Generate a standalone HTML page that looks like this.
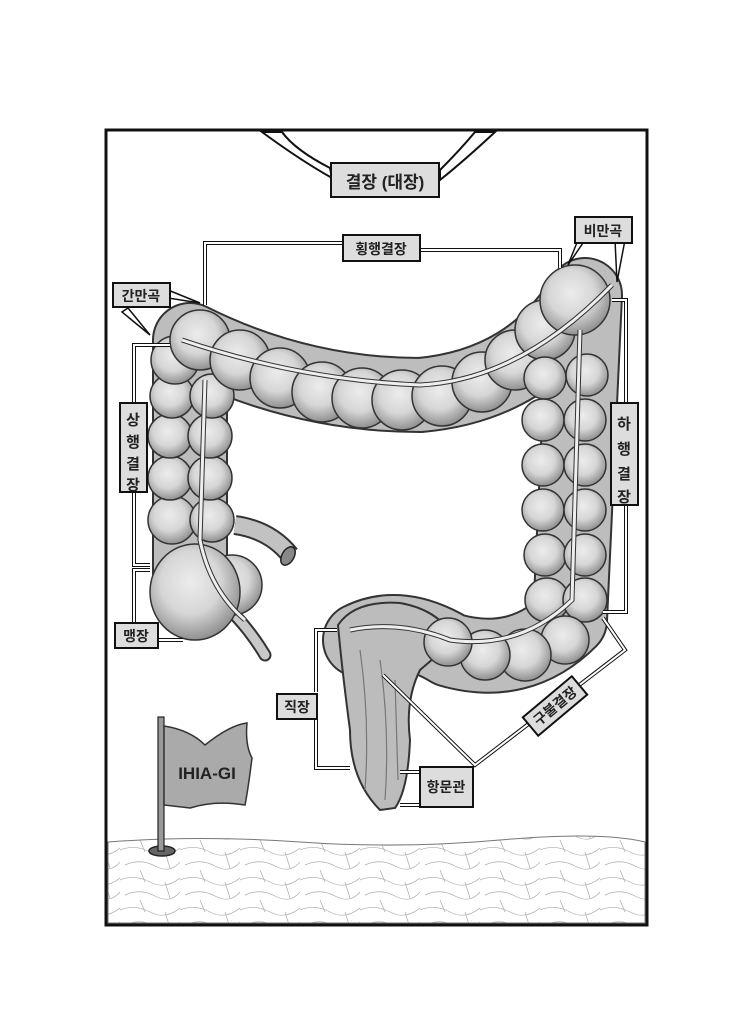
<!DOCTYPE html>
<html><head><meta charset="utf-8"><style>
body{margin:0;background:#fff;}
svg{display:block;}
text{font-family:"Liberation Sans","Noto Sans CJK KR",sans-serif;font-weight:bold;fill:#222;}
</style></head><body>
<svg width="749" height="1024" viewBox="0 0 749 1024" xmlns="http://www.w3.org/2000/svg">
<defs>
<radialGradient id="g" cx="45%" cy="40%" r="60%">
<stop offset="0" stop-color="#ececec"/><stop offset="0.55" stop-color="#d6d6d6"/><stop offset="1" stop-color="#909090"/>
</radialGradient>
<pattern id="gr" width="60" height="30" patternUnits="userSpaceOnUse">
<path d="M0 10 Q15 4 30 12 T60 8 M5 25 Q20 18 35 26 T60 22 M20 0 L25 12 M45 12 L50 28" stroke="#aaa" stroke-width="0.7" fill="none"/>
</pattern>
</defs>
<rect x="106" y="130" width="541" height="795" fill="#fff" stroke="#111" stroke-width="3"/>
<path d="M108 842 Q200 835 300 842 T500 840 T645 842 L645 923 L108 923Z" fill="url(#gr)" stroke="#777" stroke-width="1"/>

<path d="M262 132 Q300 160 332 178 L330 168 Q295 150 282 132Z" fill="#fff" stroke="#111" stroke-width="2"/>
<path d="M495 132 Q465 160 440 180 L440 170 Q460 150 475 132Z" fill="#fff" stroke="#111" stroke-width="2"/>

<g fill="none" stroke-linecap="round" stroke-linejoin="round">
<path d="M190 600 L190 340 Q300 395 420 395 Q530 385 585 295 L570 620 Q520 670 450 650 Q400 620 360 640" stroke="#333" stroke-width="76"/>
<path d="M190 600 L190 340 Q300 395 420 395 Q530 385 585 295 L570 620 Q520 670 450 650 Q400 620 360 640" stroke="#bdbdbd" stroke-width="72"/>
</g>
<path d="M235 525 Q270 530 290 555" stroke="#333" stroke-width="20" fill="none"/>
<path d="M235 525 Q270 530 290 555" stroke="#c2c2c2" stroke-width="16" fill="none"/>
<ellipse cx="288" cy="556" rx="6" ry="10" fill="#888" stroke="#222" stroke-width="1.5" transform="rotate(30 288 556)"/>
<path d="M230 610 Q250 630 265 655" stroke="#333" stroke-width="13" fill="none" stroke-linecap="round"/>
<path d="M230 610 Q250 630 265 655" stroke="#c8c8c8" stroke-width="9" fill="none" stroke-linecap="round"/>

<path d="M338 625 Q355 600 400 603 Q440 610 455 640 L420 670 Q405 700 410 740 Q408 790 395 808 L380 810 Q350 780 350 730 Q342 670 338 625Z" fill="#bcbcbc" stroke="#333" stroke-width="2"/>
<path d="M360 650 Q370 720 365 790 M380 660 Q390 730 385 800 M395 680 L398 780" stroke="#777" stroke-width="1.2" fill="none"/>

<g stroke="#333" stroke-width="1.5" fill="url(#g)">
<circle cx="172" cy="520" r="24"/><circle cx="212" cy="520" r="22"/>
<circle cx="170" cy="478" r="22"/><circle cx="210" cy="478" r="22"/>
<circle cx="170" cy="436" r="22"/><circle cx="210" cy="436" r="22"/>
<circle cx="172" cy="396" r="22"/><circle cx="212" cy="396" r="22"/>
<circle cx="175" cy="360" r="24"/>
<circle cx="232" cy="585" r="30"/>
<ellipse cx="195" cy="592" rx="45" ry="48"/>
<circle cx="200" cy="340" r="30"/>
<circle cx="240" cy="360" r="30"/><circle cx="280" cy="378" r="30"/>
<circle cx="322" cy="392" r="30"/><circle cx="362" cy="398" r="30"/>
<circle cx="402" cy="400" r="30"/><circle cx="442" cy="396" r="30"/>
<circle cx="482" cy="382" r="30"/><circle cx="515" cy="360" r="30"/>
<circle cx="545" cy="330" r="30"/>
<circle cx="547" cy="600" r="22"/><circle cx="585" cy="600" r="22"/>
<circle cx="545" cy="555" r="21"/><circle cx="585" cy="555" r="21"/>
<circle cx="543" cy="510" r="21"/><circle cx="585" cy="510" r="21"/>
<circle cx="543" cy="465" r="21"/><circle cx="585" cy="465" r="21"/>
<circle cx="543" cy="420" r="21"/><circle cx="585" cy="420" r="21"/>
<circle cx="545" cy="378" r="21"/><circle cx="587" cy="375" r="21"/>
<circle cx="575" cy="300" r="35"/>
<circle cx="565" cy="640" r="24"/><circle cx="525" cy="655" r="26"/>
<circle cx="485" cy="655" r="25"/><circle cx="448" cy="642" r="24"/>
</g>
<g fill="none" stroke="#333" stroke-width="5"><path d="M182 340 Q300 380 420 385 Q520 380 612 285"/><path d="M205 380 L200 540 Q210 590 245 620"/><path d="M580 330 L572 600 Q520 650 450 640 Q400 620 350 630"/></g>
<g fill="none" stroke="#eee" stroke-width="3"><path d="M182 340 Q300 380 420 385 Q520 380 612 285"/><path d="M205 380 L200 540 Q210 590 245 620"/><path d="M580 330 L572 600 Q520 650 450 640 Q400 620 350 630"/></g>

<g fill="none" stroke-linejoin="miter">
<g stroke="#111" stroke-width="4">
<path d="M205 305 L205 243 L345 243 M420 250 L560 250 L560 268"/>
<path d="M170 345 L134 345 L134 405 M134 492 L134 565 L150 565"/>
<path d="M150 570 L134 570 L134 625"/>
<path d="M158 640 L183 640"/>
<path d="M612 300 L626 300 L626 405 M626 505 L626 612 L603 612"/>
<path d="M337 630 L316 630 L316 692 M316 720 L316 768 L350 768"/>
<path d="M400 772 L420 772 M400 805 L420 805"/>
<path d="M383 675 L475 765 L625 650 L603 618"/>
</g>
<g stroke="#fff" stroke-width="2">
<path d="M205 305 L205 243 L345 243 M420 250 L560 250 L560 268"/>
<path d="M170 345 L134 345 L134 405 M134 492 L134 565 L150 565"/>
<path d="M150 570 L134 570 L134 625"/>
<path d="M158 640 L183 640"/>
<path d="M612 300 L626 300 L626 405 M626 505 L626 612 L603 612"/>
<path d="M337 630 L316 630 L316 692 M316 720 L316 768 L350 768"/>
<path d="M400 772 L420 772 M400 805 L420 805"/>
<path d="M383 675 L475 765 L625 650 L603 618"/>
</g>
</g>
<path d="M168 290 L200 303 L168 298Z M128 308 L150 335 L122 312Z" fill="#fff" stroke="#111" stroke-width="1.5"/>
<path d="M585 240 L568 265 L578 240Z M625 240 L617 282 L615 240Z" fill="#fff" stroke="#111" stroke-width="1.5"/>

<g fill="#ddd" stroke="#111" stroke-width="2">
<rect x="331" y="163" width="108" height="34"/>
<rect x="343" y="235" width="77" height="26"/>
<rect x="575" y="217" width="57" height="26"/>
<rect x="113" y="283" width="57" height="24"/>
<rect x="120" y="403" width="27" height="89"/>
<rect x="611" y="403" width="27" height="102"/>
<rect x="115" y="623" width="43" height="25"/>
<rect x="277" y="694" width="40" height="25"/>
<rect x="420" y="767" width="53" height="40"/>
<rect x="-32" y="-12" width="64" height="24" transform="translate(555 706) rotate(-40)"/>
</g>
<text x="385" y="188" font-size="17" text-anchor="middle">결장 (대장)</text>
<text x="381" y="254" font-size="14" text-anchor="middle">횡행결장</text>
<text x="603" y="236" font-size="14" text-anchor="middle">비만곡</text>
<text x="141" y="301" font-size="14" text-anchor="middle">간만곡</text>
<g font-size="15" text-anchor="middle"><text x="133" y="425">상</text><text x="133" y="447">행</text><text x="133" y="469">결</text><text x="133" y="490">장</text>
<text x="624" y="429">하</text><text x="624" y="454">행</text><text x="624" y="479">결</text><text x="624" y="502">장</text></g>
<text x="136" y="641" font-size="14" text-anchor="middle">맹장</text>
<text x="297" y="712" font-size="14" text-anchor="middle">직장</text>
<text x="446" y="792" font-size="14" text-anchor="middle">항문관</text>
<text x="0" y="5" font-size="14" text-anchor="middle" transform="translate(555 706) rotate(-40)">구불결장</text>

<ellipse cx="162" cy="851" rx="13" ry="5" fill="#666" stroke="#222" stroke-width="1.5"/>
<rect x="158" y="717" width="6" height="134" fill="#999" stroke="#222" stroke-width="1.2"/>
<path d="M164 726 Q190 730 205 745 Q230 725 247 723 Q245 745 252 758 Q248 790 245 805 Q215 800 190 808 L164 805Z" fill="#aaa" stroke="#333" stroke-width="1.5"/>
<text x="207" y="779" font-size="17" text-anchor="middle" font-weight="normal">IHIA-GI</text>
</svg>
</body></html>
